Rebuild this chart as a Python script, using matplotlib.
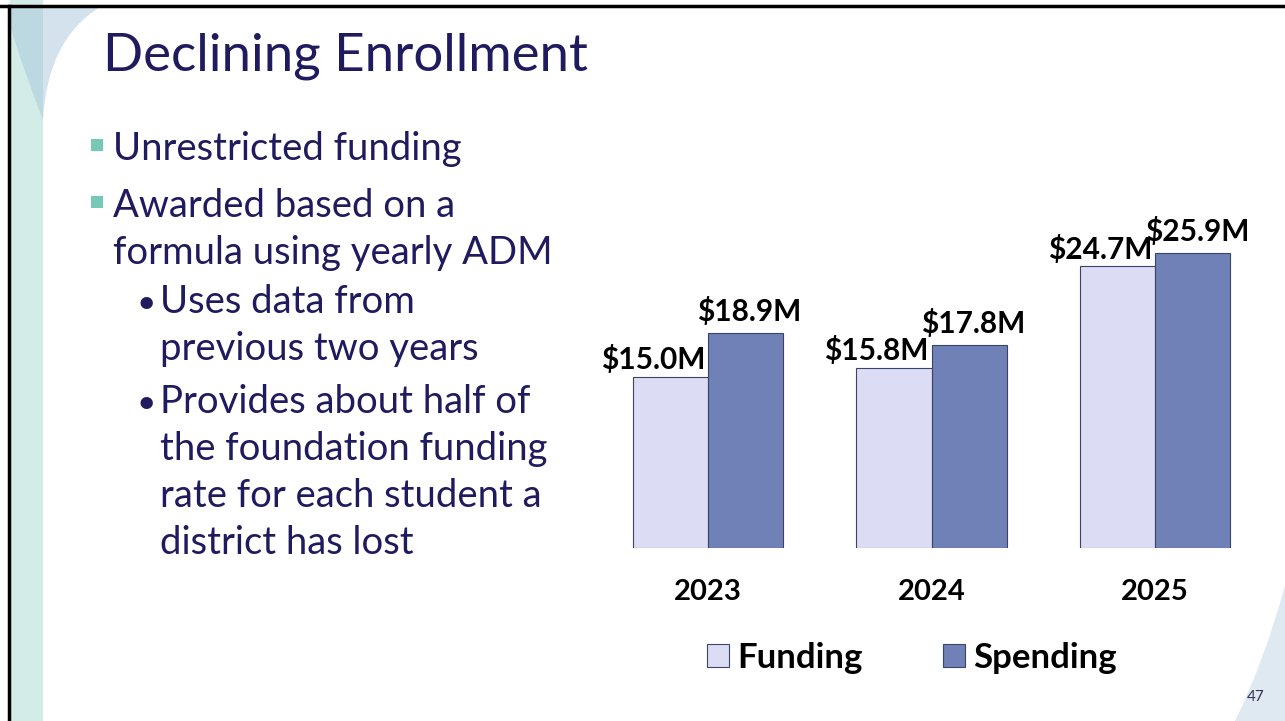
import matplotlib.pyplot as plt
import matplotlib.patches as mpatches
from matplotlib.path import Path
import numpy as np

# chart data
years = ["2023", "2024", "2025"]
funding = [15.0, 15.8, 24.7]
spending = [18.9, 17.8, 25.9]
series_names = ["Funding", "Spending"]

title = "Declining Enrollment"
bullets = [["Unrestricted funding"], ["Awarded based on a", "formula using yearly ADM"]]
sub_bullets = [["Uses data from", "previous two years"],
               ["Provides about half of", "the foundation funding",
                "rate for each student a", "district has lost"]]

navy = "#1f1b5e"
c_fund = "#dcdcf5"
c_spend = "#6f81b7"
edge = "#3a4466"
font = "Lato"

fig = plt.figure(figsize=(12.85, 7.21), dpi=100)

# background / slide decoration, pixel coordinates
bg = fig.add_axes([0, 0, 1, 1])
bg.set_xlim(0, 1285)
bg.set_ylim(721, 0)
bg.axis("off")

bg.add_patch(mpatches.Rectangle((10, 0), 33, 721, color="#d4ece8", lw=0))
verts = [(10, 7), (100, 7), (47, 40), (43, 120), (43, 7), (10, 7)]
codes = [Path.MOVETO, Path.LINETO, Path.CURVE3, Path.CURVE3, Path.LINETO, Path.CLOSEPOLY]
bg.add_patch(mpatches.PathPatch(Path(verts, codes), color="#d3e2ec", lw=0))
verts = [(10, 7), (43, 7), (43, 120), (20, 60), (10, 25), (10, 7)]
codes = [Path.MOVETO, Path.LINETO, Path.LINETO, Path.CURVE3, Path.CURVE3, Path.CLOSEPOLY]
bg.add_patch(mpatches.PathPatch(Path(verts, codes), color="#bcd8e0", lw=0))
verts = [(1285, 585), (1265, 660), (1235, 721), (1285, 721), (1285, 585)]
codes = [Path.MOVETO, Path.CURVE3, Path.CURVE3, Path.LINETO, Path.CLOSEPOLY]
bg.add_patch(mpatches.PathPatch(Path(verts, codes), color="#dfe9f1", lw=0))
bg.plot([0, 1285], [6, 6], color="black", lw=2.5)
bg.plot([9, 9], [6, 721], color="black", lw=2.5)

bg.text(103, 70, title, fontsize=38, color=navy, family=font, va="baseline")

y = 160
for lines in bullets:
    bg.add_patch(mpatches.Rectangle((91, y - 21), 12, 12, color="#76c9b6", lw=0))
    for ln in lines:
        bg.text(113, y, ln, fontsize=27.5, color=navy, family=font, va="baseline")
        y += 47
    y += 10
y = 313
for lines in sub_bullets:
    bg.text(137, y, "•", fontsize=24, color=navy, family=font, va="baseline")
    for ln in lines:
        bg.text(160, y, ln, fontsize=27.5, color=navy, family=font, va="baseline")
        y += 47
    y += 6
bg.text(1265, 701, "47", fontsize=11, color="#333355", family=font, ha="right", va="baseline")

# chart
ax = fig.add_axes([596 / 1285, (721 - 548) / 721, 671 / 1285, 342 / 721])
x = np.arange(len(years))
w = 0.336
b1 = ax.bar(x - w / 2, funding, w, color=c_fund, edgecolor=edge, lw=0.8, label=series_names[0])
b2 = ax.bar(x + w / 2, spending, w, color=c_spend, edgecolor=edge, lw=0.8, label=series_names[1])
ax.set_xlim(-0.5, 2.5)
ax.set_ylim(0, 30)
for s in ax.spines.values():
    s.set_visible(False)
ax.set_yticks([])
ax.set_xticks(x)
ax.set_xticklabels(years, fontsize=21, fontweight="bold", family=font)
ax.tick_params(axis="x", length=0, pad=22)

for xi, v in zip(x, funding):
    ax.annotate(f"${v:.1f}M", (xi, v), xytext=(-2, 2), textcoords="offset points",
                ha="right", va="bottom", fontsize=21.5, fontweight="bold", family=font)
for xi, v in zip(x, spending):
    ax.annotate(f"${v:.1f}M", (xi + w / 2, v), xytext=(3, 5), textcoords="offset points",
                ha="center", va="bottom", fontsize=21.5, fontweight="bold", family=font)

fig.legend(handles=[b1, b2], labels=series_names, loc="center",
           bbox_to_anchor=(912 / 1285, 1 - 658 / 721), ncol=2, frameon=False,
           prop={"family": font, "weight": "bold", "size": 25},
           handlelength=0.63, handleheight=0.63, columnspacing=2.3, handletextpad=0.25)

fig.savefig("out.png", dpi=100)
